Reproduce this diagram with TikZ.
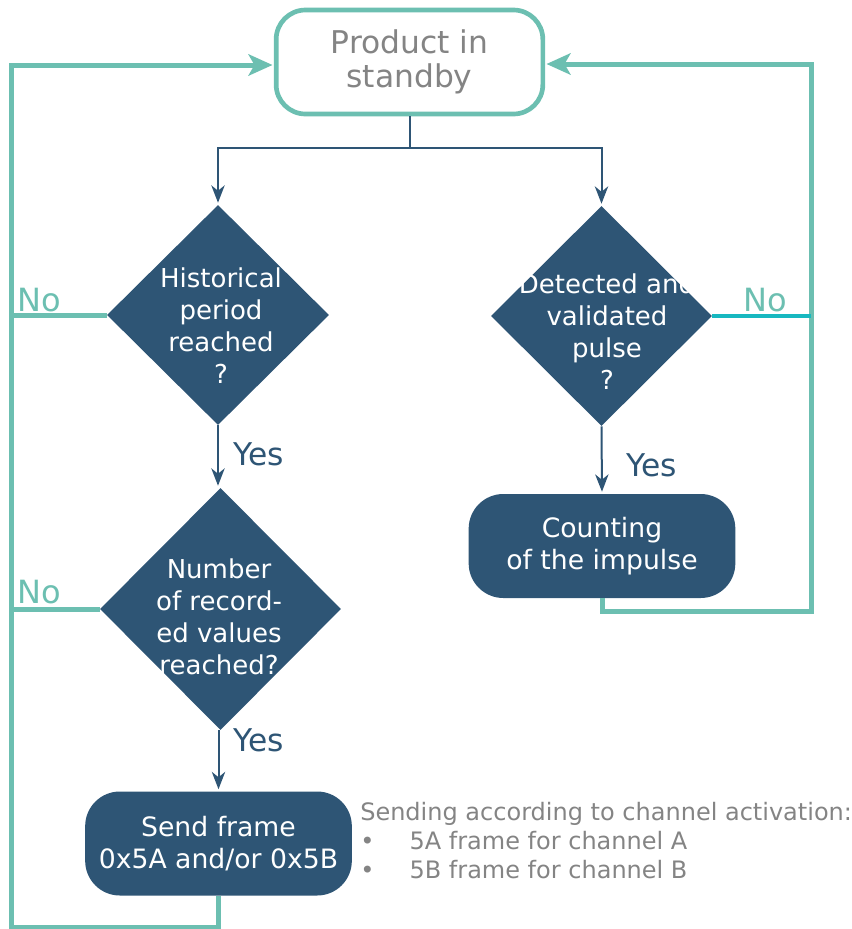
\documentclass[tikz,border=0pt]{standalone}
\usepackage{fontspec}
\setmainfont{DejaVu Sans}
\usetikzlibrary{shapes.geometric,arrows.meta}
\definecolor{navy}{HTML}{2E5575}
\definecolor{tealc}{HTML}{6CBFB1}
\definecolor{cyanc}{HTML}{17B8C0}
\definecolor{greyc}{HTML}{848484}
\tikzset{
  startbox/.style={draw=tealc, line width=3.5pt, rounded corners=22pt, fill=white,
    minimum width=200pt, minimum height=78pt, text=greyc, align=center,
    font=\fontsize{23.5}{25}\selectfont},
  procbox/.style={fill=navy, rounded corners=26pt, minimum width=200pt, minimum height=78pt,
    text=white, align=center, font=\fontsize{20}{24}\selectfont},
  dia/.style={diamond, fill=navy, inner sep=0pt},
  diatext/.style={text=white, align=center, inner sep=0pt, font=\fontsize{19.5}{24}\selectfont},
  flowline/.style={draw=navy, line width=1.5pt},
  flow/.style={flowline, shorten >=1.5pt, -{Stealth[length=13pt,width=10pt,inset=4pt]}},
  loopline/.style={draw=tealc, line width=3.75pt},
  loopend/.style={loopline, shorten >=1pt, -{Stealth[length=18pt,width=16pt,inset=4.5pt]}},
  yeslbl/.style={text=navy, anchor=west, inner sep=0pt, font=\fontsize{23.5}{27}\selectfont},
  nolbl/.style={text=tealc, anchor=west, inner sep=0pt, font=\fontsize{24}{27}\selectfont},
  note/.style={text=greyc, align=left, inner sep=0pt, font=\fontsize{18}{21.75}\selectfont}
}
\begin{document}
\begin{tikzpicture}[x=0.75pt,y=-0.75pt]
\useasboundingbox (0,0) rectangle (851,929);
% nodes
\node[startbox] (top) at (409.5,62) {Product in\\standby};
\node[dia, minimum width=166.5pt, minimum height=165pt] (d1) at (218,315) {};
\node[diatext] (t1) at (221,326) {Historical\\period\\reached\\?};
\node[dia, minimum width=165.75pt, minimum height=165pt] (d2) at (601.5,316) {};
\node[diatext] (t2) at (607,332) {Detected and\\validated\\pulse\\?};
\node[dia, minimum width=180.75pt, minimum height=181.5pt] (d3) at (220.5,609) {};
\node[diatext] (t3) at (219,617) {Number\\of record-\\ed values\\reached?};
\node[procbox] (cnt) at (602,546) {Counting\\of the impulse};
\node[procbox] (send) at (218.5,843.5) {Send frame\\0x5A and/or 0x5B};
\node[note, anchor=north west] (note) at (360,802) {Sending according to channel activation:\\
  \hspace*{0pt}\makebox[37pt][l]{\textbullet}5A frame for channel A\\
  \hspace*{0pt}\makebox[37pt][l]{\textbullet}5B frame for channel B};
% coordinates
\coordinate (split) at (411,148);
\coordinate (tl) at (11,65);
\coordinate (bl) at (11,927);
\coordinate (tr) at (811,64);
\coordinate (br) at (811,611);
% navy flow
\draw[flowline] (top.south) -- (top.south |- split);
\draw[flow] (top.south |- split) -| (d1.north);
\draw[flow] (top.south |- split) -| (d2.north);
\draw[flow] (d1.south) -- (d1.south |- d3.north);
\draw[flow] (d2.south) -- (cnt.north);
\draw[flow] (send.north |- d3.south) -- (send.north);
% teal loops
\draw[loopend] (send.south) |- (bl) -- (tl) -- (tl -| top.west);
\draw[loopline] (d1.west) -- (d1.west -| tl);
\draw[loopline] (d3.west) -- (d3.west -| tl);
\draw[loopend] (cnt.south) |- (br) -- (tr) -- (tr -| top.east);
\draw[loopline, draw=cyanc, line width=3pt] (d2.east) -- (d2.east -| tr);
% labels
\node[yeslbl] (y1) at (233,454) {Yes};
\node[yeslbl] (y2) at (626,465) {Yes};
\node[yeslbl] (y3) at (233,740) {Yes};
\node[nolbl] (n1) at (17,300) {No};
\node[nolbl] (n2) at (17,592) {No};
\node[nolbl] (n3) at (743,300) {No};
\end{tikzpicture}
\end{document}
